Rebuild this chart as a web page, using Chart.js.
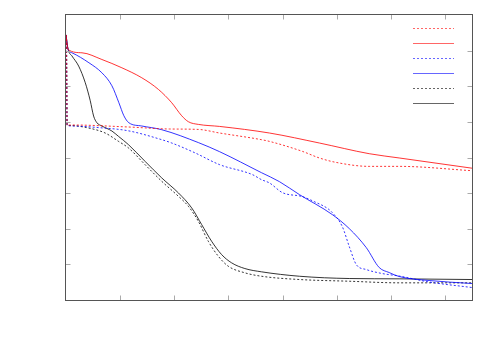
<!DOCTYPE html>
<html>
<head>
<meta charset="utf-8">
<script src="https://cdn.jsdelivr.net/npm/chart.js"></script>
<style>
	html, body { margin: 0; padding: 0; background: #fff; }
</style>
</head>
<body>
<canvas id="chart" width="500" height="350"></canvas>
<script>
// Axis ranges and tick values
const xMax = 7.5;
const yMax = 8;
const tickValuesX = [1, 2, 3, 4, 5, 6, 7];
const tickValuesY = [1, 2, 3, 4, 5, 6, 7];

// Red dotted
const redDottedX = [0, 0.01, 0.02, 0.111, 1.155, 1.916, 2.445, 2.838, 3.611, 3.759, 4.367, 4.68, 4.988, 5.601, 6.154, 7.5];
const redDottedY = [7.44, 7.08, 4.906, 4.912, 4.856, 4.8, 4.788, 4.687, 4.5, 4.452, 4.172, 3.987, 3.863, 3.751, 3.751, 3.63];

// Red solid
const redSolidX = [0, 0.04, 0.295, 0.663, 1.032, 1.4, 1.708, 1.953, 2.137, 2.261, 2.445, 2.838, 3.759, 4.68, 5.601, 6.154, 7.5];
const redSolidY = [7.44, 7.03, 6.939, 6.751, 6.518, 6.238, 5.91, 5.537, 5.172, 5.004, 4.929, 4.872, 4.687, 4.407, 4.107, 3.987, 3.7];

// Blue dotted
const blueDottedX = [0, 0.01, 0.02, 0.111, 0.627, 1.142, 1.769, 1.953, 2.377, 2.838, 3.446, 3.611, 3.759, 3.998, 4.367, 4.625, 4.809, 4.92, 5.104, 5.233, 5.362, 5.546, 5.841, 6.154, 6.707, 7.5];
const blueDottedY = [7.44, 7.08, 4.906, 4.884, 4.836, 4.752, 4.5, 4.407, 4.135, 3.799, 3.518, 3.378, 3.286, 3.014, 2.902, 2.733, 2.593, 2.453, 2.061, 1.5, 0.995, 0.855, 0.743, 0.673, 0.505, 0.35];

// Blue solid
const blueSolidX = [0, 0.04, 0.111, 0.424, 0.663, 0.848, 0.977, 1.069, 1.161, 1.4, 1.769, 2.451, 2.838, 3.611, 3.943, 4.312, 4.92, 5.233, 5.546, 5.786, 5.97, 6.154, 6.707, 7.5];
const blueSolidY = [7.44, 7.03, 6.939, 6.659, 6.378, 6.014, 5.537, 5.172, 4.976, 4.884, 4.78, 4.415, 4.163, 3.574, 3.322, 2.958, 2.397, 2.004, 1.472, 0.911, 0.771, 0.659, 0.547, 0.463];

// Black dotted
const blackDottedX = [0, 0.01, 0.02, 0.05, 0.418, 0.724, 0.971, 1.155, 1.461, 1.769, 2.077, 2.261, 2.445, 2.629, 2.814, 2.998, 3.304, 3.611, 4.312, 5.233, 6.154, 7.5];
const blackDottedY = [7.44, 7.08, 4.906, 4.9, 4.827, 4.687, 4.452, 4.267, 3.799, 3.331, 2.91, 2.63, 2.209, 1.648, 1.228, 0.948, 0.763, 0.667, 0.575, 0.527, 0.482, 0.482];

// Black solid
const blackSolidX = [0, 0.04, 0.111, 0.234, 0.356, 0.448, 0.51, 0.571, 0.663, 0.848, 0.971, 1.155, 1.461, 1.769, 2.077, 2.322, 2.506, 2.69, 2.874, 3.059, 3.304, 3.611, 4.312, 5.233, 6.154, 7.5];
const blackSolidY = [7.44, 7.03, 6.848, 6.566, 6.098, 5.593, 5.164, 4.976, 4.884, 4.743, 4.592, 4.359, 3.891, 3.426, 3.005, 2.585, 2.117, 1.648, 1.276, 1.043, 0.883, 0.791, 0.667, 0.603, 0.594, 0.575];

// Line styles, in the same order as the legend
const seriesColors = ['#ff0000', '#ff0000', '#0000ff', '#0000ff', '#000000', '#000000'];
const seriesDotted = [true, false, true, false, true, false];

function toPoints(xs, ys) {
	return xs.map((x, i) => ({ x: x, y: ys[i] }));
}

function makeSet(xs, ys, i) {
	return {
		data: toPoints(xs, ys),
		borderColor: seriesColors[i],
		borderWidth: 0.8,
		borderDash: seriesDotted[i] ? [2, 2] : [],
		pointRadius: 0,
		fill: false,
		cubicInterpolationMode: 'monotone'
	};
}

// Frame with inward ticks on all four sides
const framePlugin = {
	id: 'frame',
	afterDraw(chart) {
		const ctx = chart.ctx;
		const area = chart.chartArea;
		const xs = chart.scales.x;
		const ys = chart.scales.y;
		const left = Math.round(area.left) - 0.5;
		const right = Math.round(area.right) + 0.5;
		const top = Math.round(area.top) - 0.5;
		const bottom = Math.round(area.bottom) + 0.5;
		const len = 5;

		ctx.save();
		ctx.lineWidth = 1;
		ctx.strokeStyle = '#aaa';
		ctx.beginPath();
		tickValuesX.forEach(v => {
			const px = Math.round(xs.getPixelForValue(v)) + 0.5;
			ctx.moveTo(px, bottom);
			ctx.lineTo(px, bottom - len);
			ctx.moveTo(px, top);
			ctx.lineTo(px, top + len);
		});
		tickValuesY.forEach(v => {
			const py = Math.round(ys.getPixelForValue(v)) + 0.5;
			ctx.moveTo(left, py);
			ctx.lineTo(left + len, py);
			ctx.moveTo(right, py);
			ctx.lineTo(right - len, py);
		});
		ctx.stroke();

		ctx.strokeStyle = '#555';
		ctx.strokeRect(left, top, right - left, bottom - top);
		ctx.restore();
	}
};

// Legend samples (no text) at the top right
const legendPlugin = {
	id: 'sampleLegend',
	afterDraw(chart) {
		const ctx = chart.ctx;
		seriesColors.forEach((color, i) => {
			const y = 28.5 + i * 15;
			ctx.save();
			ctx.strokeStyle = color;
			ctx.globalAlpha = 0.6;
			ctx.lineWidth = 1;
			ctx.setLineDash(seriesDotted[i] ? [2, 2] : []);
			ctx.beginPath();
			ctx.moveTo(413, y);
			ctx.lineTo(454, y);
			ctx.stroke();
			ctx.restore();
		});
	}
};

new Chart(document.getElementById('chart'), {
	type: 'line',
	data: {
		datasets: [
			makeSet(redDottedX, redDottedY, 0),
			makeSet(redSolidX, redSolidY, 1),
			makeSet(blueDottedX, blueDottedY, 2),
			makeSet(blueSolidX, blueSolidY, 3),
			makeSet(blackDottedX, blackDottedY, 4),
			makeSet(blackSolidX, blackSolidY, 5)
		]
	},
	options: {
		responsive: false,
		animation: false,
		layout: {
			padding: { left: 66, top: 15, right: 28, bottom: 50 }
		},
		plugins: {
			legend: { display: false },
			tooltip: { enabled: false }
		},
		scales: {
			x: { type: 'linear', min: 0, max: xMax, display: false },
			y: { type: 'linear', min: 0, max: yMax, display: false }
		}
	},
	plugins: [framePlugin, legendPlugin]
});
</script>
</body>
</html>
